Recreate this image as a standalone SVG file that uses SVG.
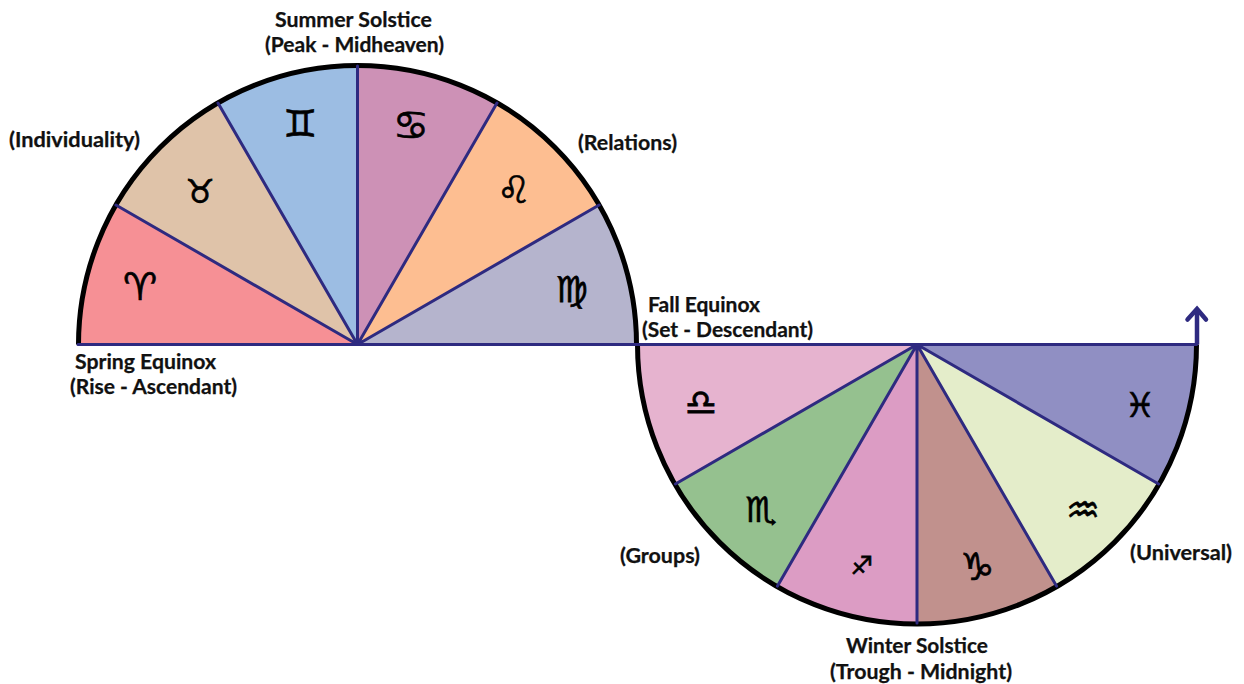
<svg xmlns="http://www.w3.org/2000/svg" width="1244" height="684" viewBox="0 0 1244 684">
<style>
.spoke{stroke:#2e2a80;stroke-width:3;fill:none;stroke-linecap:round}
.rim{stroke:#000;stroke-width:5;fill:none}
.lab{font-family:"Lato","Open Sans",sans-serif;font-weight:700;font-size:20px;fill:#111;stroke:#111;stroke-width:.25}
.sym{font-family:"DejaVu Sans",sans-serif;font-size:34px;fill:#000;text-anchor:middle;stroke:#000;stroke-width:.7}
</style>
<rect width="1244" height="684" fill="#fff"/>
<g id="aries"><path d="M357.5 344.500H78.500A279 279 0 0 1 115.900 205Z" fill="#f69095"/><text class="sym" x="140" y="300" style="font-size:38px">♈︎</text></g>
<g id="taurus"><path d="M357.500 344.500L115.900 205A279 279 0 0 1 218 103Z" fill="#dfc3a9"/><text class="sym" x="200" y="203" style="font-size:33px">♉︎</text></g>
<g id="gemini"><path d="M357.500 344.500L218 103A279 279 0 0 1 357.500 65.500Z" fill="#9cbde3"/><text class="sym" x="300" y="137" style="font-size:38px">♊︎</text></g>
<g id="cancer"><path d="M357.500 344.500V65.500A279 279 0 0 1 497 103Z" fill="#cd91b6"/><text class="sym" x="411" y="139" style="font-size:40px">♋︎</text></g>
<g id="leo"><path d="M357.500 344.500L497 103A279 279 0 0 1 599.100 205Z" fill="#fdbe91"/><text class="sym" x="514" y="203" style="font-size:38px">♌︎</text></g>
<g id="virgo"><path d="M357.500 344.500L599.100 205A279 279 0 0 1 636.500 344.500Z" fill="#b5b4cd"/><text class="sym" x="572" y="302" style="font-size:36px">♍︎</text></g>
<g id="libra"><path d="M917 344.500H638A279 279 0 0 0 675.400 484Z" fill="#e6b3cf"/><text class="sym" x="701" y="415" style="font-size:36px">♎︎</text></g>
<g id="scorpio"><path d="M917 344.500L675.400 484A279 279 0 0 0 777.500 586.100Z" fill="#95c18f"/><text class="sym" x="761" y="522" style="font-size:35px">♏︎</text></g>
<g id="sagittarius"><path d="M917 344.500L777.500 586.100A279 279 0 0 0 917 623.500Z" fill="#dc9cc4"/><text class="sym" x="862" y="574" style="font-size:25px">♐︎</text></g>
<g id="capricorn"><path d="M917 344.500V623.500A279 279 0 0 0 1056.500 586.100Z" fill="#c1918d"/><text class="sym" x="977" y="580" style="font-size:38px">♑︎</text></g>
<g id="aquarius"><path d="M917 344.500L1056.500 586.100A279 279 0 0 0 1158.600 484Z" fill="#e4edca"/><text class="sym" x="1083" y="523" style="font-size:38px">♒︎</text></g>
<g id="pisces"><path d="M917 344.500L1158.600 484A279 279 0 0 0 1196 344.500Z" fill="#908fc3"/><text class="sym" x="1140" y="417" style="font-size:34px">♓︎</text></g>
<g id="connectors">
<path class="rim" d="M78.500 344.500A279 279 0 0 1 636.500 344.500"/>
<path class="rim" d="M637.500 344.500A279.500 279.500 0 0 0 1196.500 344.500"/>
<path class="spoke" d="M78 344.500H1196.500M357.500 344.500L115.900 205M357.500 344.500L218 103M357.500 344.500V66M357.500 344.500L497 103M357.500 344.500L599.100 205M917 344.500L675.400 484M917 344.500L777.500 586.100M917 344.500V623M917 344.500L1056.500 586.100M917 344.500L1158.600 484"/>
<path d="M1197 344.500V309" stroke="#2e2a80" stroke-width="4.500" fill="none"/>
<path d="M1187.500 319.500L1197 309L1206 319.500" stroke="#2e2a80" stroke-width="4.500" fill="none" stroke-linecap="round"/>
</g>
<g id="labels">
<text class="lab" x="275" y="27" textLength="157" lengthAdjust="spacingAndGlyphs">Summer Solstice</text>
<text class="lab" x="265" y="52" textLength="179" lengthAdjust="spacingAndGlyphs">(Peak - Midheaven)</text>
<text class="lab" x="75" y="369" textLength="141" lengthAdjust="spacingAndGlyphs">Spring Equinox</text>
<text class="lab" x="70" y="394" textLength="167" lengthAdjust="spacingAndGlyphs">(Rise - Ascendant)</text>
<text class="lab" x="9" y="147" textLength="131" lengthAdjust="spacingAndGlyphs">(Individuality)</text>
<text class="lab" x="578" y="150" textLength="99" lengthAdjust="spacingAndGlyphs">(Relations)</text>
<text class="lab" x="648" y="312" textLength="112" lengthAdjust="spacingAndGlyphs">Fall Equinox</text>
<text class="lab" x="642" y="337" textLength="171" lengthAdjust="spacingAndGlyphs">(Set - Descendant)</text>
<text class="lab" x="620" y="563" textLength="80" lengthAdjust="spacingAndGlyphs">(Groups)</text>
<text class="lab" x="1130" y="560" textLength="102" lengthAdjust="spacingAndGlyphs">(Universal)</text>
<text class="lab" x="846" y="653" textLength="142" lengthAdjust="spacingAndGlyphs">Winter Solstice</text>
<text class="lab" x="830" y="679" textLength="182" lengthAdjust="spacingAndGlyphs">(Trough - Midnight)</text>
</g>
</svg>
